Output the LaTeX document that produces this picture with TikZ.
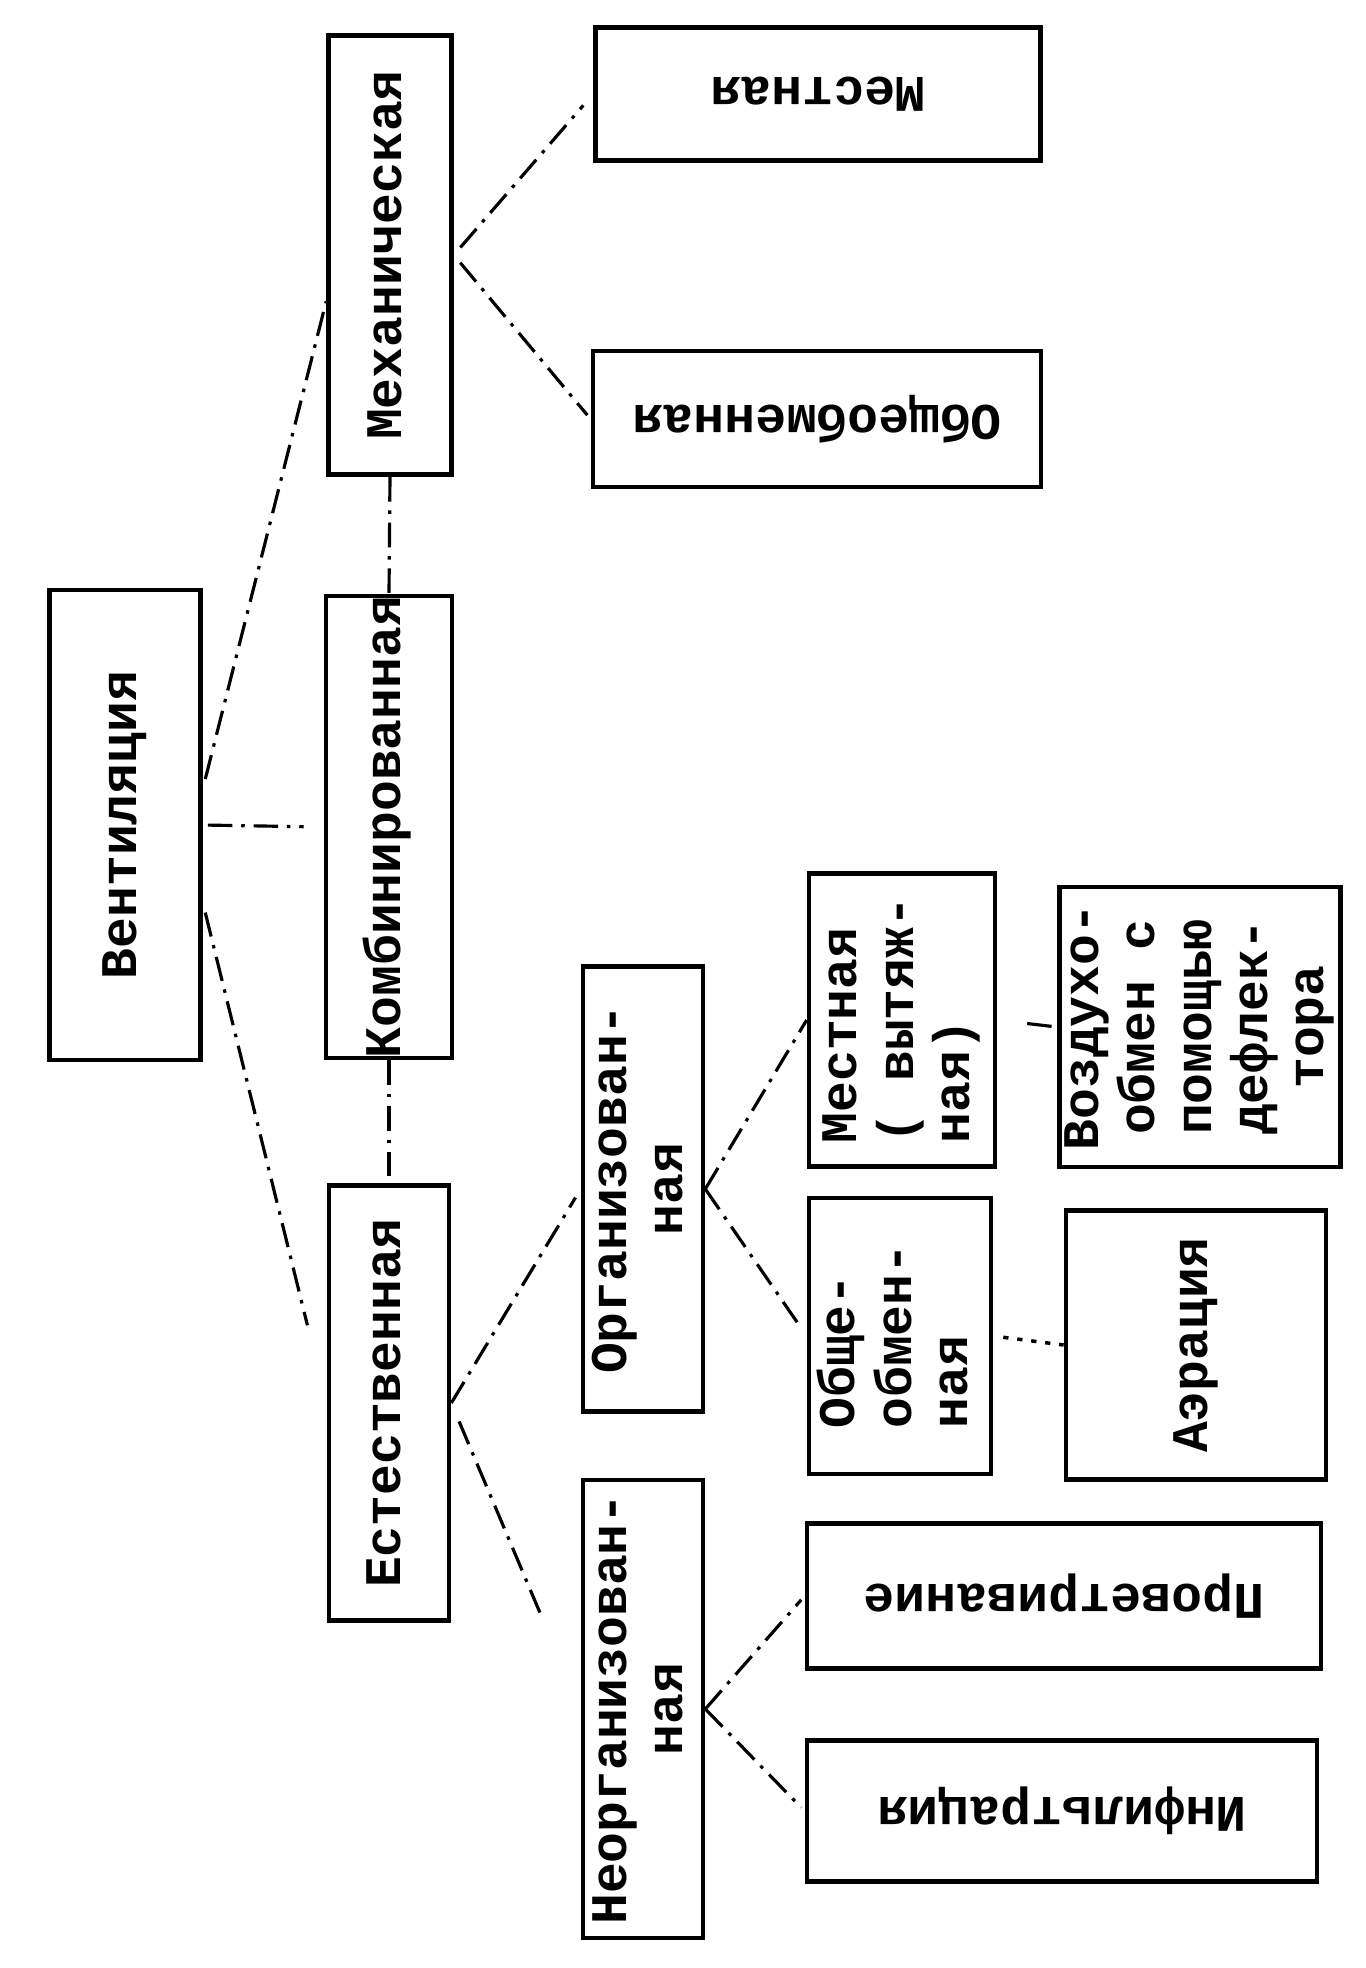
\documentclass[tikz,border=0pt]{standalone}
\usepackage{fontspec}
\setmonofont{Liberation Mono}
\usepackage{graphicx}
\usepackage{tikz}
\newcommand{\vtxt}[2][c]{\rotatebox{90}{\begin{tabular}{@{}#1@{}}#2\end{tabular}}}
\newcommand{\utxt}[1]{\rotatebox{180}{#1}}

\begin{document}
\begin{tikzpicture}[x=0.01cm,y=-0.01cm]
\tikzstyle{box}=[draw, line width=1.3pt, inner sep=0pt, font=\ttfamily\bfseries\fontsize{14.6}{16}\selectfont]
\tikzstyle{lnk}=[line width=0.9pt, dash pattern=on 7pt off 2.5pt on 1pt off 2.5pt]
\tikzstyle{dotlnk}=[line width=1pt, dash pattern=on 1.5pt off 2.5pt]
\useasboundingbox (0,0) rectangle (1365,1968);
%1
\node[box, minimum width=1.51cm, minimum height=4.70cm] (vent) at (125,825) {\vtxt{Вентиляция}};
%2
\node[box, minimum width=1.23cm, minimum height=4.39cm] (mech) at (390,255) {\vtxt{Механическая}};
\node[box, minimum width=1.26cm, minimum height=4.62cm] (komb) at (389,827) {\vtxt{Комбинированная}};
\node[box, minimum width=1.20cm, minimum height=4.35cm] (est) at (389,1403) {\vtxt{Естественная}};
%3
\node[box, minimum width=4.45cm, minimum height=1.33cm] (mest) at (818,94) {\utxt{Местная}};
\node[box, minimum width=4.48cm, minimum height=1.36cm] (obsh) at (817,419) {\utxt{Общеобменная}};
\node[box, minimum width=1.20cm, minimum height=4.45cm] (org) at (643,1189) {\vtxt{Организован-\\ная}};
\node[box, minimum width=1.20cm, minimum height=4.58cm] (neorg) at (643,1709) {\vtxt{Неорганизован-\\ная}};
%4
\node[box, minimum width=1.86cm, minimum height=2.93cm] (mestv) at (902,1020) {\vtxt[l]{Местная\\( вытяж-\\ная)}};
\node[box, minimum width=1.82cm, minimum height=2.76cm] (obshv) at (900,1336) {\vtxt[l]{Обще-\\обмен-\\ная}};
\node[box, minimum width=5.14cm, minimum height=1.45cm] (prov) at (1064,1596) {\utxt{Проветривание}};
\node[box, minimum width=5.10cm, minimum height=1.41cm] (infl) at (1062,1811) {\utxt{Инфильтрация}};
%5
\node[box, minimum width=2.60cm, minimum height=2.80cm] (vozd) at (1200,1027) {\vtxt{Воздухо-\\обмен с\\помощью\\дефлек-\\тора}};
\node[box, minimum width=2.60cm, minimum height=2.69cm] (aer) at (1196,1345) {\vtxt{Аэрация}};
%links
\draw[lnk, shorten <=0.1cm] (vent.25) -- (mech.216);
\draw[lnk, shorten <=0.05cm, shorten >=0.2cm] (vent.east) -- (komb.west);
\draw[lnk, shorten <=0.1cm, shorten >=0.8cm] (vent.-45) -- (est.west);
\draw[lnk] (mech.south) -- (komb.north);
\draw[lnk] (komb.south) -- (est.north);
\draw[lnk, shorten <=0.1cm, shorten >=0.15cm] (mech.east) -- (mest.west);
\draw[lnk, shorten <=0.1cm, shorten >=0.05cm] (mech.east) -- (obsh.west);
\draw[lnk, shorten >=0.1cm] (est.east) -- (org.west);
\draw[lnk, shorten <=0.2cm, shorten >=1cm] (est.east) -- (neorg.west);
\draw[lnk] (org.east) -- (mestv.west);
\draw[lnk, shorten >=0.1cm] (org.east) -- (obshv.west);
\draw[lnk, shorten <=0.3cm] (mestv.east) -- (vozd.west);
\draw[dotlnk, shorten <=0.1cm] (obshv.east) -- (aer.west);
\draw[lnk, shorten >=0.05cm] (neorg.east) -- (prov.west);
\draw[lnk, shorten >=0.05cm] (neorg.east) -- (infl.west);
\end{tikzpicture}
\end{document}
